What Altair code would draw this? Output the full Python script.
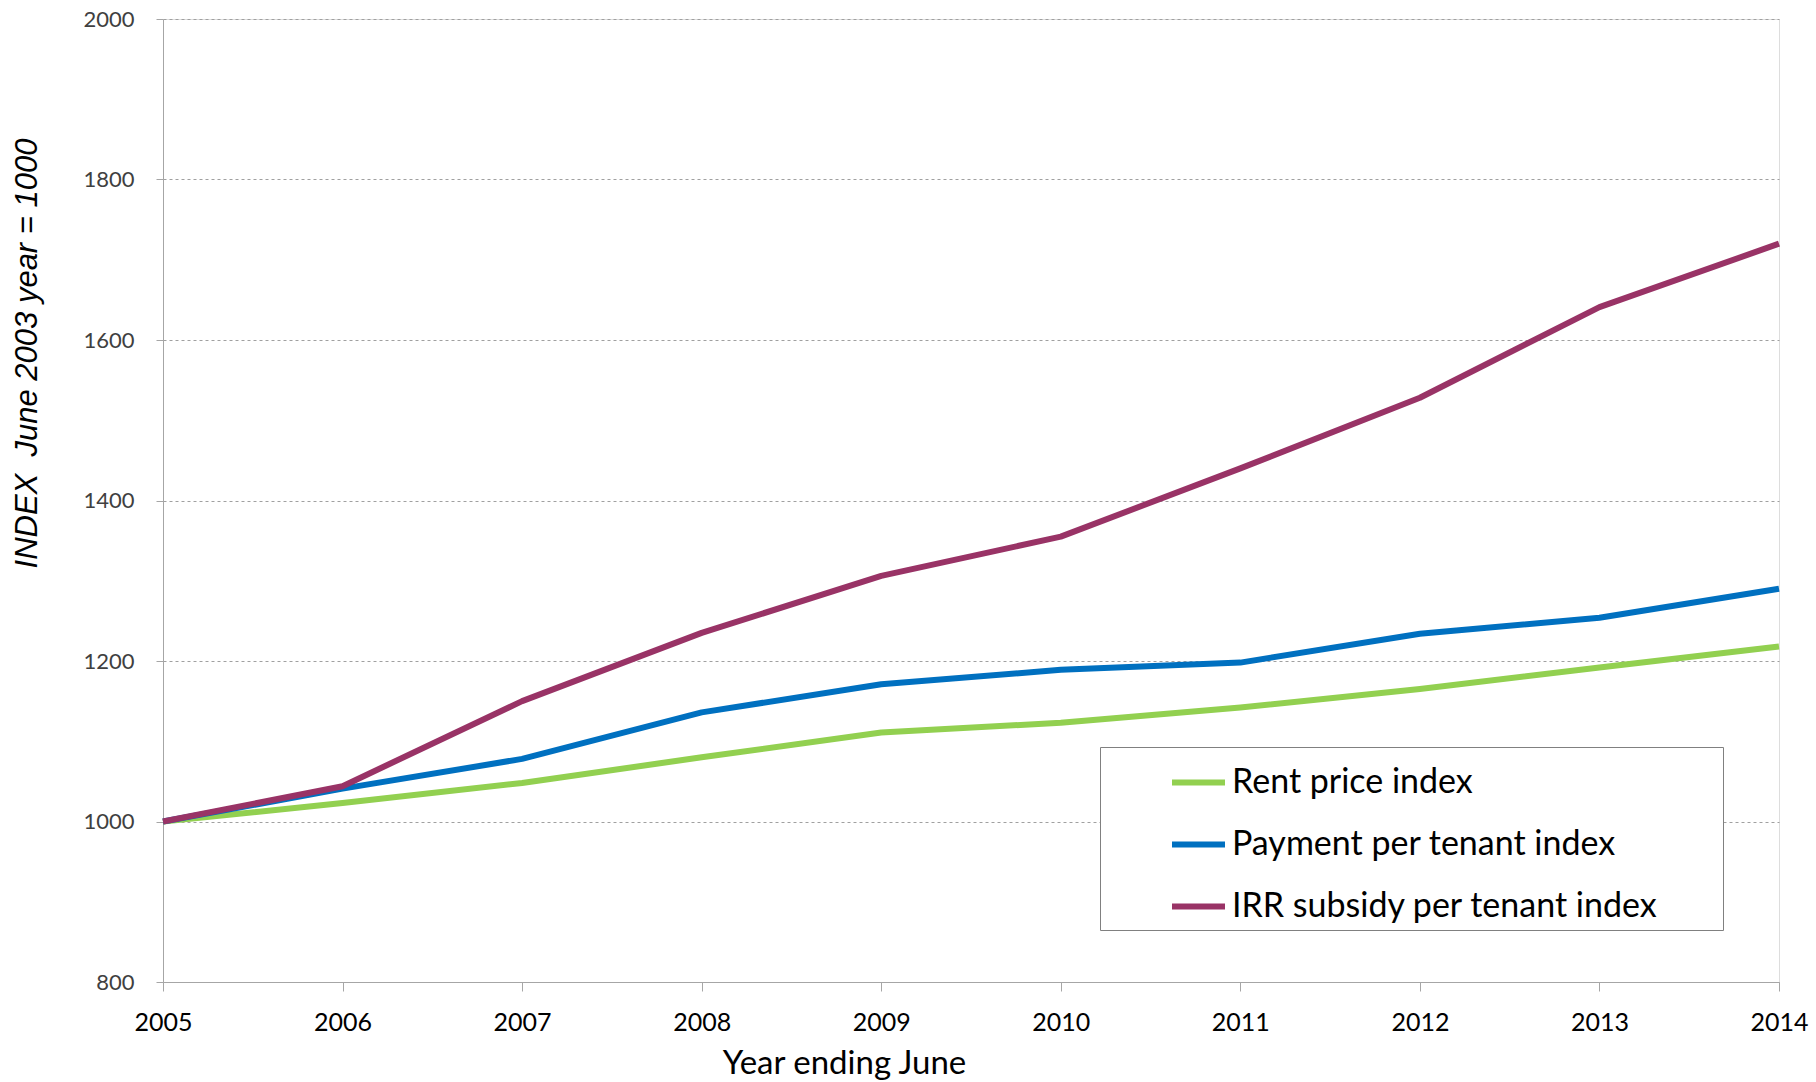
import altair as alt
import pandas as pd

years = [2005, 2006, 2007, 2008, 2009, 2010, 2011, 2012, 2013, 2014]
rent_price = [1000, 1023, 1048, 1080, 1111, 1123, 1142, 1165, 1192, 1218]
payment_per_tenant = [1000, 1041, 1078, 1136, 1171, 1189, 1198, 1234, 1254, 1290]
irr_subsidy = [1000, 1044, 1150, 1235, 1306, 1355, 1440, 1528, 1641, 1720]

series_names = ["Rent price index", "Payment per tenant index", "IRR subsidy per tenant index"]
series_colors = ["#92D050", "#0070C0", "#993366"]
y_ticks = [800, 1000, 1200, 1400, 1600, 1800, 2000]

rows = []
for name, vals in zip(series_names, [rent_price, payment_per_tenant, irr_subsidy]):
    for yr, v in zip(years, vals):
        rows.append({"year": yr, "value": v, "series": name})
df = pd.DataFrame(rows)

FONT = "Lato"

chart = alt.Chart(df).mark_line(strokeWidth=6, strokeJoin="round", strokeCap="butt").encode(
    x=alt.X("year:Q",
            scale=alt.Scale(domain=[2005, 2014], nice=False, zero=False),
            axis=alt.Axis(values=years, format="d", grid=False, labelFlush=False,
                          title="Year ending June",
                          titleX=681, titleY=81, titleBaseline="middle", titleAlign="center",
                          titleFontSize=33, titleFontWeight="normal", titleColor="#000000",
                          labelFontSize=25, labelColor="#000000", labelPadding=19,
                          tickSize=9, tickColor="#A6A6A6", domainColor="#A6A6A6",
                          labelFont=FONT, titleFont=FONT)),
    y=alt.Y("value:Q",
            scale=alt.Scale(domain=[800, 2000], nice=False, zero=False),
            axis=alt.Axis(values=y_ticks, format="d", grid=True, gridDash=[3, 3],
                          gridColor="#A0A0A0", gridWidth=1,
                          title="INDEX\u00a0\u00a0June 2003 year = 1000",
                          titleFont="Liberation Sans",
                          titleFontStyle="italic", titleFontWeight="normal",
                          titleX=-136, titleY=334, titleAngle=-90,
                          titleAlign="center", titleBaseline="middle",
                          titleFontSize=31, titleColor="#000000",
                          labelFontSize=22, labelColor="#404040", labelPadding=22,
                          tickSize=7, tickColor="#A6A6A6", domainColor="#A6A6A6",
                          labelFont=FONT)),
    color=alt.Color("series:N",
                    scale=alt.Scale(domain=series_names, range=series_colors),
                    sort=series_names,
                    legend=alt.Legend(orient="none", legendX=937, legendY=728,
                                      title=".", titleOrient="right", titleOpacity=0,
                                      titlePadding=58, titleFontSize=2,
                                      symbolType="stroke", symbolSize=2809,
                                      symbolStrokeWidth=6, symbolOffset=63,
                                      labelFontSize=34, labelColor="#000000",
                                      labelFont=FONT, labelOffset=4, labelLimit=700,
                                      rowPadding=15, padding=6,
                                      strokeColor="#808080", fillColor="white")),
).properties(
    width=1616,
    height=963,
).configure_view(
    stroke="#A6A6A6", strokeWidth=1,
).configure(
    autosize=alt.AutoSizeParams(type="none"),
    padding={"left": 163, "top": 19, "right": 37, "bottom": 100},
    background="white",
)

chart.save("out.html", embed_options={"renderer": "svg", "actions": False})
